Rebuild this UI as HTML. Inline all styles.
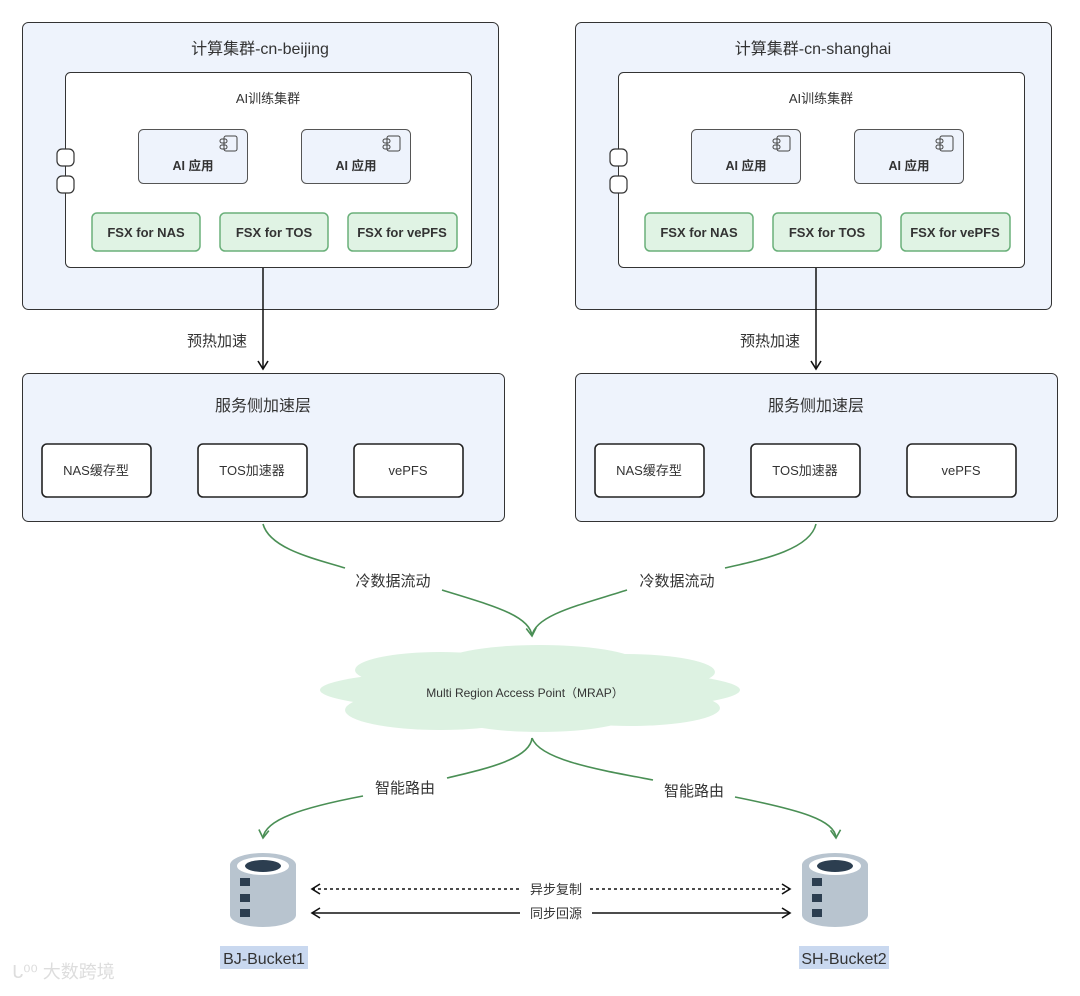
<!DOCTYPE html>
<html><head><meta charset="utf-8"><style>
html,body{margin:0;padding:0;background:#fff;}
svg text{font-family:"Liberation Sans","Noto Sans CJK SC",sans-serif;fill:#333;}
</style></head><body>
<svg width="1080" height="991" viewBox="0 0 1080 991" xmlns="http://www.w3.org/2000/svg">
<defs>
<marker id="ab" markerWidth="12" markerHeight="12" refX="10" refY="6" orient="auto" markerUnits="userSpaceOnUse"><path d="M2,1 L10,6 L2,11" fill="none" stroke="#111" stroke-width="1.6"/></marker>
<marker id="ag" markerWidth="12" markerHeight="12" refX="10" refY="6" orient="auto" markerUnits="userSpaceOnUse"><path d="M2,1 L10,6 L2,11" fill="none" stroke="#4a8f55" stroke-width="1.6"/></marker>
<marker id="as" markerWidth="12" markerHeight="12" refX="2" refY="6" orient="auto" markerUnits="userSpaceOnUse"><path d="M10,1 L2,6 L10,11" fill="none" stroke="#111" stroke-width="1.6"/></marker>
<g id="cluster">
<rect x="22.5" y="22.5" width="476" height="287" rx="6" fill="#eef3fc" stroke="#333" stroke-width="1"/>
<rect x="65.5" y="72.5" width="406" height="195" rx="5" fill="#fff" stroke="#333" stroke-width="1"/>
<rect x="57" y="149" width="17" height="17" rx="5" fill="#fff" stroke="#333" stroke-width="1.2"/>
<rect x="57" y="176" width="17" height="17" rx="5" fill="#fff" stroke="#333" stroke-width="1.2"/>
<text x="268" y="103" font-size="13" text-anchor="middle">AI训练集群</text>
<rect x="138.5" y="129.5" width="109" height="54" rx="5" fill="#eef3fc" stroke="#555"/>
<rect x="301.5" y="129.5" width="109" height="54" rx="5" fill="#eef3fc" stroke="#555"/>
<g fill="none" stroke="#444" stroke-width="1"><rect x="224" y="136" width="13" height="15" rx="2"/><rect x="220" y="139" width="7" height="4" rx="2"/><rect x="220" y="145" width="7" height="4" rx="2"/>
<rect x="387" y="136" width="13" height="15" rx="2"/><rect x="383" y="139" width="7" height="4" rx="2"/><rect x="383" y="145" width="7" height="4" rx="2"/></g>
<text x="193" y="170" font-size="12.5" font-weight="bold" text-anchor="middle">AI 应用</text>
<text x="356" y="170" font-size="12.5" font-weight="bold" text-anchor="middle">AI 应用</text>
<g fill="#e0f3e4" stroke="#6ab07a" stroke-width="1.5">
<rect x="92" y="213" width="108" height="38" rx="5"/><rect x="220" y="213" width="108" height="38" rx="5"/><rect x="348" y="213" width="109" height="38" rx="5"/></g>
<g font-size="13" font-weight="bold" text-anchor="middle"><text x="146" y="237">FSX for NAS</text><text x="274" y="237">FSX for TOS</text><text x="402" y="237">FSX for vePFS</text></g>
<rect x="22.5" y="373.5" width="482" height="148" rx="6" fill="#eef3fc" stroke="#333"/>
<text x="263" y="411" font-size="16" text-anchor="middle">服务侧加速层</text>
<g fill="#fff" stroke="#222" stroke-width="1.6"><rect x="42" y="444" width="109" height="53" rx="5"/><rect x="198" y="444" width="109" height="53" rx="5"/><rect x="354" y="444" width="109" height="53" rx="5"/></g>
<g font-size="13" text-anchor="middle"><text x="96" y="475">NAS缓存型</text><text x="252" y="475">TOS加速器</text><text x="408" y="475">vePFS</text></g>
<line x1="263" y1="268" x2="263" y2="369" stroke="#111" stroke-width="1.5" marker-end="url(#ab)"/>
<text x="217" y="346" font-size="15" text-anchor="middle">预热加速</text>
</g>
</defs>
<use href="#cluster"/>
<use href="#cluster" transform="translate(553,0)"/>
<rect x="22" y="370" width="1" height="1" fill="none"/>
<text x="260" y="54" font-size="16" text-anchor="middle">计算集群-cn-beijing</text>
<text x="813" y="54" font-size="16" text-anchor="middle">计算集群-cn-shanghai</text>
<!-- cloud -->
<g fill="#ddf2e2">
<ellipse cx="530" cy="690" rx="210" ry="22"/>
<ellipse cx="440" cy="670" rx="85" ry="18"/>
<ellipse cx="540" cy="664" rx="100" ry="19"/>
<ellipse cx="625" cy="672" rx="90" ry="18"/>
<ellipse cx="440" cy="710" rx="95" ry="20"/>
<ellipse cx="540" cy="715" rx="90" ry="17"/>
<ellipse cx="630" cy="708" rx="90" ry="18"/>
</g>
<text x="525" y="697" font-size="12" text-anchor="middle">Multi Region Access Point（MRAP）</text>
<!-- green curves -->
<g fill="none" stroke="#4a8f55" stroke-width="1.6">
<path d="M263,524 C270,550 320,560 345,568"/>
<path d="M442,590 C490,605 530,615 532,636" marker-end="url(#ag)"/>
<path d="M816,524 C810,550 760,560 725,568"/>
<path d="M627,590 C580,605 535,615 532,636"/>
<path d="M532,738 C530,760 480,770 447,778"/>
<path d="M363,796 C300,808 265,820 263,838" marker-end="url(#ag)"/>
<path d="M532,738 C540,760 600,770 653,780"/>
<path d="M735,797 C800,810 835,820 836,838" marker-end="url(#ag)"/>
</g>
<g font-size="15" text-anchor="middle">
<text x="393" y="586">冷数据流动</text><text x="677" y="586">冷数据流动</text>
<text x="405" y="793">智能路由</text><text x="694" y="796">智能路由</text>
</g>
<!-- buckets -->
<g id="bk">
<path d="M230,865 L230,915 A33,12 0 0 0 296,915 L296,865 Z" fill="#b8c4cf"/>
<ellipse cx="263" cy="865" rx="33" ry="12" fill="#b8c4cf"/>
<ellipse cx="263" cy="866" rx="26" ry="9" fill="#fff"/>
<ellipse cx="263" cy="866" rx="18" ry="6" fill="#2c3e50"/>
<g fill="#2c3e50"><rect x="240" y="878" width="10" height="8"/><rect x="240" y="894" width="10" height="8"/><rect x="240" y="909" width="10" height="8"/></g>
</g>
<use href="#bk" transform="translate(572,0)"/>
<g stroke="#111" stroke-width="1.6" fill="none">
<line x1="312" y1="889" x2="522" y2="889" stroke-dasharray="3,3" marker-start="url(#as)"/>
<line x1="590" y1="889" x2="790" y2="889" stroke-dasharray="3,3" marker-end="url(#ab)"/>
<line x1="312" y1="913" x2="520" y2="913" marker-start="url(#as)"/>
<line x1="592" y1="913" x2="790" y2="913" marker-end="url(#ab)"/>
</g>
<g font-size="13" text-anchor="middle"><text x="556" y="894">异步复制</text><text x="556" y="918">同步回源</text></g>
<rect x="220" y="946" width="88" height="23" fill="#c9d8ef"/>
<rect x="799" y="946" width="90" height="23" fill="#c9d8ef"/>
<g font-size="16" text-anchor="middle"><text x="264" y="964">BJ-Bucket1</text><text x="844" y="964">SH-Bucket2</text></g>
<text x="12" y="978" font-size="18" style="fill:#ddd">ᒐ⁰⁰ 大数跨境</text>
</svg>
</body></html>
